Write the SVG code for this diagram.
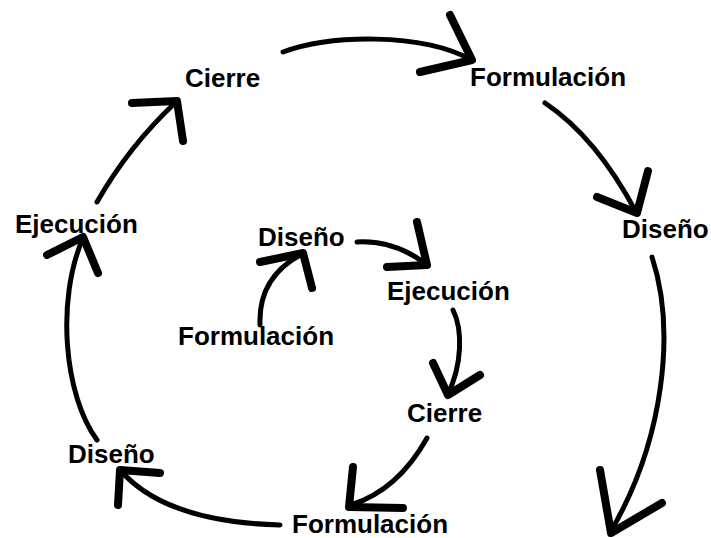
<svg xmlns="http://www.w3.org/2000/svg" width="711" height="538" viewBox="0 0 711 538">
<style>
.lbl{font-family:"Liberation Sans",Arial,sans-serif;font-weight:bold;font-size:26px;fill:#000}
.ln{fill:none;stroke:#000;stroke-width:5;stroke-linecap:round}
.hd{fill:none;stroke:#000;stroke-width:8;stroke-linecap:round;stroke-linejoin:round}
</style>
<rect width="711" height="538" fill="#fff"/>
<g id="connectors">
<path class="ln" d="M283,52 C330,35 420,32 472,60"/>
<path class="hd" d="M450,15 L472,60 L420,72"/>
<path class="ln" d="M545,103 Q596,137 636,212"/>
<path class="hd" d="M648,171 L637,213 L597,197"/>
<path class="ln" d="M652,257 C676,330 664,440 611,531"/>
<path class="hd" d="M600,470 L611,533 L662,503"/>
<path class="ln" d="M97,440 C64,395 56,300 83,238"/>
<path class="hd" d="M47,255 L83,237 L98,273"/>
<path class="ln" d="M97,202 Q129,146 176,102"/>
<path class="hd" d="M132,103 L177,101 L183,141"/>
<path class="ln" d="M280,525 Q166,522 121,471"/>
<path class="hd" d="M160,473 L120,470 L118,505"/>
<path class="ln" d="M427,438 Q398,490 351,505"/>
<path class="hd" d="M353,467 L349,507 L403,508"/>
<path class="ln" d="M453,310 C463,330 462,365 448,394"/>
<path class="hd" d="M433,363 L448,395 L480,375"/>
<path class="ln" d="M260,325 Q258,277 302,254"/>
<path class="hd" d="M260,262 L303,253 L312,288"/>
<path class="ln" d="M357,242 Q394,240 426,264"/>
<path class="hd" d="M417,222 L427,265 L387,267"/>
</g>
<g id="n-cierre-outer"><text class="lbl" x="185" y="87">Cierre</text></g>
<g id="n-formulacion-top"><text class="lbl" x="470" y="86">Formulación</text></g>
<g id="n-diseno-right"><text class="lbl" x="622" y="238">Diseño</text></g>
<g id="n-ejecucion-left"><text class="lbl" x="15" y="233">Ejecución</text></g>
<g id="n-diseno-inner"><text class="lbl" x="258" y="246">Diseño</text></g>
<g id="n-ejecucion-inner"><text class="lbl" x="387" y="300">Ejecución</text></g>
<g id="n-formulacion-inner"><text class="lbl" x="178" y="345">Formulación</text></g>
<g id="n-cierre-inner"><text class="lbl" x="407" y="422">Cierre</text></g>
<g id="n-diseno-bottom"><text class="lbl" x="68" y="463">Diseño</text></g>
<g id="n-formulacion-bottom"><text class="lbl" x="292" y="533">Formulación</text></g>
</svg>
